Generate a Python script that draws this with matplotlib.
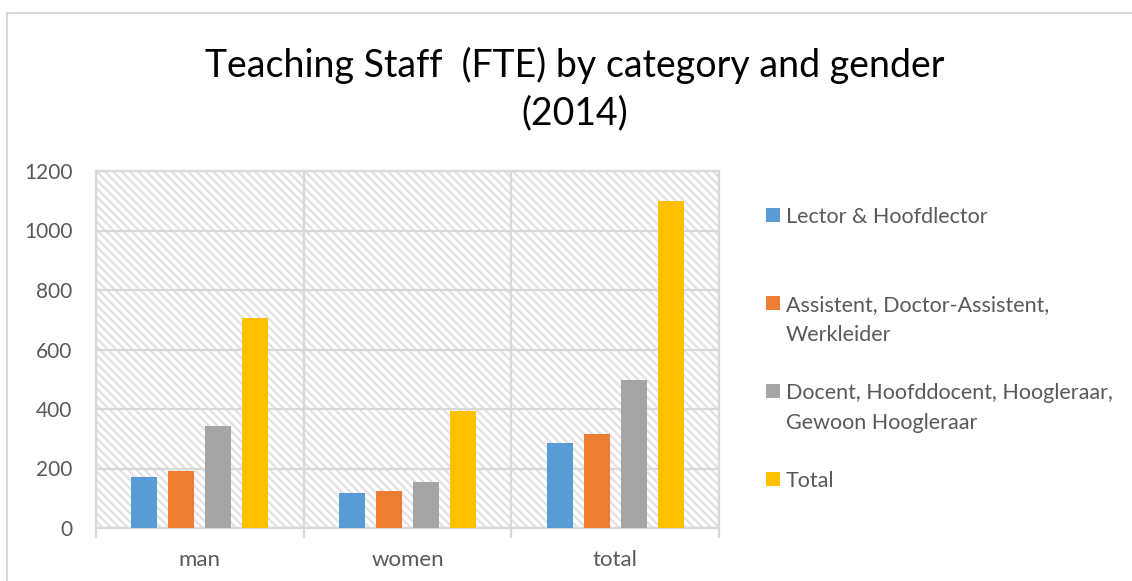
import matplotlib
matplotlib.use("Agg")
import matplotlib.pyplot as plt
from matplotlib.patches import Rectangle
import numpy as np

plt.rcParams['font.family'] = ['Lato', 'DejaVu Sans']
plt.rcParams['hatch.linewidth'] = 1.7

categories = ["man", "women", "total"]
series_names = ["Lector & Hoofdlector",
                "Assistent, Doctor-Assistent,\nWerkleider",
                "Docent, Hoofddocent, Hoogleraar,\nGewoon Hoogleraar",
                "Total"]
lector = [170, 117, 287]
assistent = [192, 123, 315]
docent = [344, 154, 498]
total = [705, 394, 1099]
series_values = [lector, assistent, docent, total]
colors = ["#5B9BD5", "#ED7D31", "#A5A5A5", "#FFC000"]
yticks = [0, 200, 400, 600, 800, 1000, 1200]
title = "Teaching Staff  (FTE) by category and gender\n(2014)"

W, H = 1132, 581
fig = plt.figure(figsize=(W / 100, H / 100), dpi=100)
fig.patch.set_facecolor("white")

# outer chart frame
fig.patches.append(Rectangle((7 / W, -0.1), 1.2, 1.1 - 13 / H, transform=fig.transFigure,
                             facecolor="none", edgecolor="#D9D9D9", linewidth=1.5, zorder=0))

ax = fig.add_axes([96 / W, (H - 528) / H, 623 / W, 357 / H])
ax.set_facecolor("white")
bg = Rectangle((0, 0), 1, 1, transform=ax.transAxes, facecolor="white",
               edgecolor="#E2E2E2", linewidth=0, hatch="\\\\\\\\", zorder=0)
ax.add_patch(bg)

x = np.arange(len(categories))
bw = 0.125
step = 0.178
for i, (vals, c) in enumerate(zip(series_values, colors)):
    ax.bar(x + (i - 1.5) * step, vals, width=bw, color=c, zorder=3)

ax.set_xlim(-0.5, len(categories) - 0.5)
ax.set_ylim(0, 1200)
ax.set_yticks(yticks)
ax.set_yticklabels([str(v) for v in yticks])
ax.yaxis.grid(True, color="#D9D9D9", linewidth=1.6, zorder=1)
ax.set_axisbelow(True)
ax.set_xticks(x)
ax.set_xticklabels(categories)
ax.set_xticks(np.arange(-0.5, len(categories)), minor=True)
ax.xaxis.grid(True, which="minor", color="#D9D9D9", linewidth=1.6, zorder=1)
ax.tick_params(axis="x", which="major", length=0, labelsize=16, labelcolor="#595959", pad=16)
ax.tick_params(axis="x", which="minor", length=7, width=1.6, color="#D9D9D9", direction="out")
ax.tick_params(axis="y", length=0, labelsize=15, labelcolor="#595959", pad=17)
for s in ax.spines.values():
    s.set_color("#D9D9D9")
    s.set_linewidth(1.6)

fig.text(575 / W, 1 - 89 / H, title, ha="center", va="center", fontsize=27,
         color="#000000", linespacing=1.38)

# legend
for i, (name, c) in enumerate(zip(series_names, colors)):
    yc = 215 + 88 * i
    fig.patches.append(Rectangle((766 / W, 1 - (yc + 7) / H), 14 / W, 14 / H,
                                 transform=fig.transFigure, facecolor=c, edgecolor="none"))
    fig.text(786 / W, 1 - (yc - 8) / H, name, ha="left", va="top", fontsize=15.5,
             color="#595959", linespacing=1.6)

fig.savefig("out.png", dpi=100, facecolor="white")
